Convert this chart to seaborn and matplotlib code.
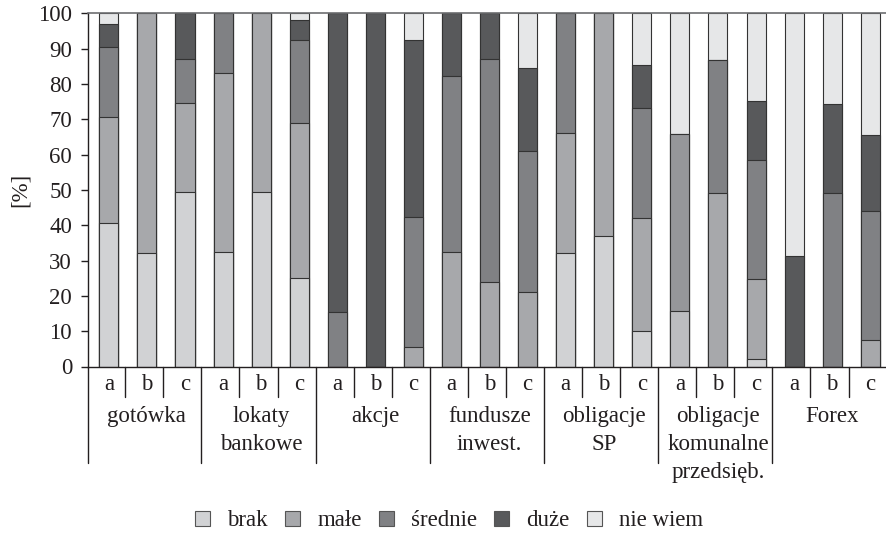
import numpy as np
import pandas as pd
import matplotlib
matplotlib.use('Agg')
import matplotlib.pyplot as plt
import seaborn as sns
from matplotlib.lines import Line2D
from matplotlib.patches import Patch

# ---- data ----
groups = ['gotówka', 'lokaty\nbankowe', 'akcje', 'fundusze\ninwest.',
          'obligacje\nSP', 'obligacje\nkomunalne\nprzedsięb.', 'Forex']
subs = ['a', 'b', 'c']
series_names = ['brak', 'małe', 'średnie', 'duże', 'nie wiem']

brak     = [40.5, 32, 49.5,  32.5, 49.5, 25,   0, 0, 0,       0, 0, 0,       32, 37, 10,    0, 0, 2,        0, 0, 0]
male     = [30, 68, 25,      50.5, 50.5, 44,   0, 0, 5.5,     32.3, 24, 21,  34, 63, 32,    15.7, 49, 22.7, 0, 0, 7.5]
srednie  = [20, 0, 12.6,     17, 0, 23.3,      15.4, 0, 36.8, 50, 63, 40,    34, 0, 31.3,   50, 37.7, 33.7, 0, 49, 36.5]
duze     = [6.5, 0, 12.9,    0, 0, 5.8,        84.6, 100, 50, 17.7, 13, 23.5, 0, 0, 12.1,   0, 0, 16.8,     31.4, 25.3, 21.6]
nie_wiem = [3, 0, 0,         0, 0, 1.9,        0, 0, 7.7,     0, 0, 15.5,    0, 0, 14.6,    34.3, 13.3, 24.8, 68.6, 25.7, 34.4]

colors = ['#d1d2d4', '#a7a8ab', '#808184', '#58595b', '#e6e7e8']

# ---- style ----
sns.set_theme(style='white')
plt.rcParams['font.family'] = ['Liberation Serif', 'DejaVu Serif']
FS = 16.5
dark = '#231f20'

W, H = 887, 534
fig = plt.figure(figsize=(W / 100, H / 100), dpi=100)
x0, x1, y0, y1 = 88.3, 887, 366.5, 13.3
ax = fig.add_axes([x0 / W, 1 - y0 / H, (x1 - x0) / W, (y0 - y1) / H])

keys = [f'{g}|{s}' for g in groups for s in subs]
vals = np.array([brak, male, srednie, duze, nie_wiem], dtype=float)
cum = np.cumsum(vals, axis=0)
df = pd.DataFrame({'key': keys})
for name, c in zip(series_names, cum):
    df[name] = c

# stacked bars drawn as overlaid cumulative bars (top series first)
for i in range(4, -1, -1):
    sns.barplot(data=df, x='key', y=series_names[i], order=keys, color=colors[i],
                saturation=1, width=0.5, errorbar=None, edgecolor='#333333',
                linewidth=0.8, ax=ax)

# slight shade differences of one bar in the original
conts = ax.containers  # order: nie wiem, duże, średnie, małe, brak
conts[3][15].set_facecolor('#bcbdc0')
conts[2][15].set_facecolor('#96979a')

ax.set_xlim(-0.54, 20.44)
ax.set_ylim(0, 100)
ax.set_yticks(range(0, 101, 10))
ax.set_xticks([])
ax.set_xlabel('')
ax.set_ylabel('[%]', fontsize=FS, color=dark)
ax.yaxis.set_label_coords(-0.072, 0.5)
ax.tick_params(axis='y', left=True, direction='out', length=4.7, width=1,
               color=dark, labelsize=FS, labelcolor=dark, pad=7)

ax.spines['right'].set_visible(False)
ax.spines['top'].set_color('#6d6e71')
ax.spines['top'].set_linewidth(1.2)
for s in ['left', 'bottom']:
    ax.spines[s].set_color(dark)
    ax.spines[s].set_linewidth(1.0)

# ---- custom x-axis annotations ----
tr = ax.get_xaxis_transform()
ah = y0 - y1
def yf(py):
    return (y0 - py) / ah

for i in range(21):
    ax.text(i, yf(385), subs[i % 3], transform=tr, ha='center', va='center',
            fontsize=FS, color=dark)

short_end = yf(396.7)
long_end = yf(462.7)
# left long separator
ax.add_line(Line2D([-0.54, -0.54], [0, long_end], transform=tr, color=dark,
                   lw=1.0, clip_on=False))
for i in range(20):
    xs = i + 0.43
    end = long_end if (i % 3 == 2) else short_end
    ax.add_line(Line2D([xs, xs], [0, end], transform=tr, color=dark, lw=1.0,
                       clip_on=False))

line_y = [416.7, 445, 473]
for gi, g in enumerate(groups):
    for li, line in enumerate(g.split('\n')):
        ax.text(gi * 3 + 1, yf(line_y[li]), line, transform=tr, ha='center',
                va='center', fontsize=FS, color=dark)

# ---- legend ----
handles = [Patch(facecolor=c, edgecolor='#555555', linewidth=0.8, label=n)
           for n, c in zip(series_names, colors)]
fig.legend(handles=handles, loc='center', bbox_to_anchor=(449 / W, 1 - 521 / H),
           ncol=5, frameon=False, fontsize=FS, handlelength=0.66,
           handleheight=0.66, handletextpad=0.74, columnspacing=0.75,
           labelcolor=dark)

fig.savefig('out.png', dpi=100)
